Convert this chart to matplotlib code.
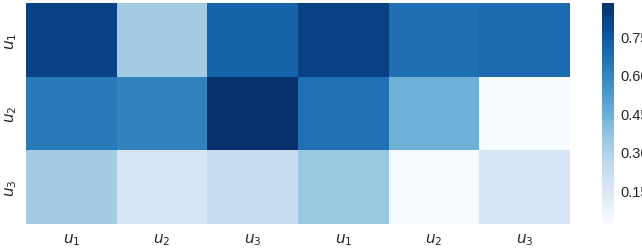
import numpy as np
import matplotlib
matplotlib.use("Agg")
import matplotlib.pyplot as plt
import seaborn as sns

# attention-like weights, rows = queries, cols = keys (two blocks of u1..u3)
row_labels = ["$u_1$", "$u_2$", "$u_3$"]
col_labels = ["$u_1$", "$u_2$", "$u_3$", "$u_1$", "$u_2$", "$u_3$"]
row_u1 = [0.82, 0.33, 0.71, 0.82, 0.67, 0.69]
row_u2 = [0.64, 0.61, 0.88, 0.665, 0.44, 0.02]
row_u3 = [0.33, 0.17, 0.235, 0.355, 0.03, 0.16]
cbar_ticks = [0.15, 0.30, 0.45, 0.60, 0.75]

sns.set_style("white")
plt.rcParams['font.family'] = ['Liberation Sans', 'DejaVu Sans']

weights = np.array([row_u1, row_u2, row_u3])

fig = plt.figure(figsize=(6.42, 2.51), dpi=100)
ax = fig.add_axes([0.0405, 0.104, 0.847, 0.88])
cax = fig.add_axes([0.938, 0.104, 0.019, 0.88])

sns.heatmap(weights, cmap="Blues", ax=ax, cbar_ax=cax,
            xticklabels=col_labels, yticklabels=row_labels,
            cbar_kws={"ticks": cbar_ticks})
cax.set_yticklabels(["%.2f" % t for t in cbar_ticks])
cax.tick_params(labelsize=10.5, length=0, pad=4)
ax.tick_params(labelsize=11, length=0, pad=5)
ax.set_yticklabels(row_labels, rotation=90, va="center")
ax.set_xticklabels(col_labels, rotation=0)

fig.savefig("out.png", dpi=100)
